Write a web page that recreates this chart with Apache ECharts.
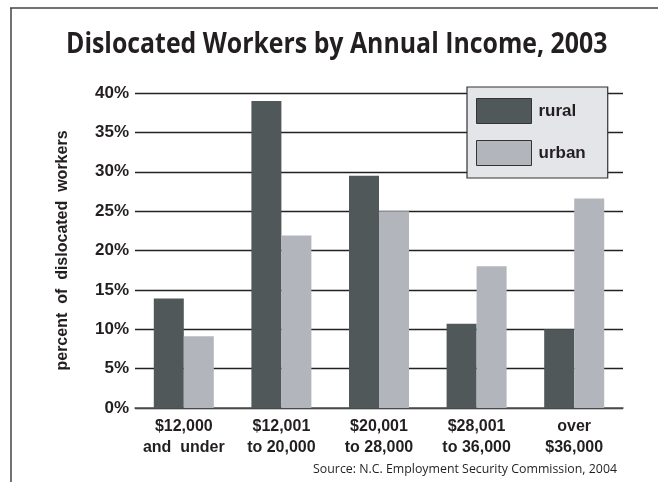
<!DOCTYPE html>
<html>
<head>
<meta charset="utf-8">
<script src="https://cdn.jsdelivr.net/npm/echarts@6/dist/echarts.min.js"></script>
<style>
  html, body { margin: 0; padding: 0; background: #fff; }
  #chart { width: 658px; height: 482px; }
</style>
</head>
<body>
<div id="chart"></div>
<script>
// Income brackets and share of dislocated workers (%) in each
const categories = ['$12,000\nand  under', '$12,001\nto 20,000', '$20,001\nto 28,000', '$28,001\nto 36,000', 'over\n$36,000'];
const rural = [13.9, 39.0, 29.5, 10.7, 10.0];
const urban = [9.1, 21.9, 25.0, 18.0, 26.6];
const seriesNames = ['rural', 'urban'];
const titleText = 'Dislocated Workers by Annual Income, 2003';
const sourceText = 'Source: N.C. Employment Security Commission, 2004';
const yAxisTitle = 'percent  of  dislocated  workers';

const RURAL_COLOR = '#515859';
const URBAN_COLOR = '#b2b6bc';
const INK = '#231f20';

const chart = echarts.init(document.getElementById('chart'), null, { renderer: 'canvas' });

chart.setOption({
  animation: false,
  backgroundColor: '#fff',
  grid: { left: 135, right: 35, top: 93, bottom: 74, containLabel: false },
  legend: {
    orient: 'vertical',
    left: 467,
    top: 87,
    padding: [11, 22, 12, 9],
    itemWidth: 55,
    itemHeight: 25,
    itemGap: 16,
    backgroundColor: '#e4e5e9',
    borderColor: '#333',
    borderWidth: 1.2,
    textStyle: {
      fontFamily: '"Liberation Sans", Arial, sans-serif',
      fontWeight: 'bold',
      fontSize: 17,
      color: INK,
      padding: [0, 0, 0, 2]
    },
    data: seriesNames.map(function (n) {
      return { name: n, icon: 'rect', itemStyle: { borderColor: '#333', borderWidth: 1 } };
    })
  },
  xAxis: {
    type: 'category',
    data: categories,
    axisTick: { show: false },
    axisLine: { show: true, lineStyle: { color: '#555', width: 1.5 } },
    axisLabel: {
      fontFamily: '"Liberation Sans", Arial, sans-serif',
      fontWeight: 'bold',
      fontSize: 16,
      lineHeight: 21,
      color: INK,
      margin: 8,
      interval: 0
    }
  },
  yAxis: {
    type: 'value',
    min: 0,
    max: 40,
    interval: 5,
    name: yAxisTitle,
    nameLocation: 'middle',
    nameGap: 64,
    nameRotate: 90,
    nameTextStyle: {
      fontFamily: '"Liberation Sans", Arial, sans-serif',
      fontWeight: 'bold',
      fontSize: 16,
      color: INK
    },
    axisLine: { show: false },
    axisTick: { show: false },
    splitLine: { show: true, lineStyle: { color: '#222', width: 1.3 } },
    axisLabel: {
      formatter: '{value}%',
      fontFamily: '"Liberation Sans", Arial, sans-serif',
      fontWeight: 'bold',
      fontSize: 17,
      color: INK,
      margin: 6
    }
  },
  series: [
    {
      name: seriesNames[0],
      type: 'bar',
      data: rural,
      barWidth: 30,
      barGap: '0%',
      itemStyle: { color: RURAL_COLOR }
    },
    {
      name: seriesNames[1],
      type: 'bar',
      data: urban,
      barWidth: 30,
      barGap: '0%',
      itemStyle: { color: URBAN_COLOR }
    }
  ],
  graphic: [
    {
      type: 'line',
      shape: { x1: 10, y1: 8, x2: 658, y2: 8 },
      style: { stroke: '#444', lineWidth: 1.5 }
    },
    {
      type: 'line',
      shape: { x1: 11, y1: 8, x2: 11, y2: 482 },
      style: { stroke: '#444', lineWidth: 1.5 }
    },
    {
      type: 'text',
      x: 66,
      y: 30,
      scaleX: 0.857,
      style: {
        text: titleText,
        font: 'bold 29px "Open Sans", "Noto Sans", sans-serif',
        fill: INK,
        textAlign: 'left',
        textVerticalAlign: 'top'
      }
    },
    {
      type: 'text',
      x: 617,
      y: 469,
      scaleX: 0.95,
      style: {
        text: sourceText,
        font: '13px "Open Sans", "Noto Sans", sans-serif',
        fill: INK,
        textAlign: 'right',
        textVerticalAlign: 'middle'
      }
    }
  ]
});
</script>
</body>
</html>
